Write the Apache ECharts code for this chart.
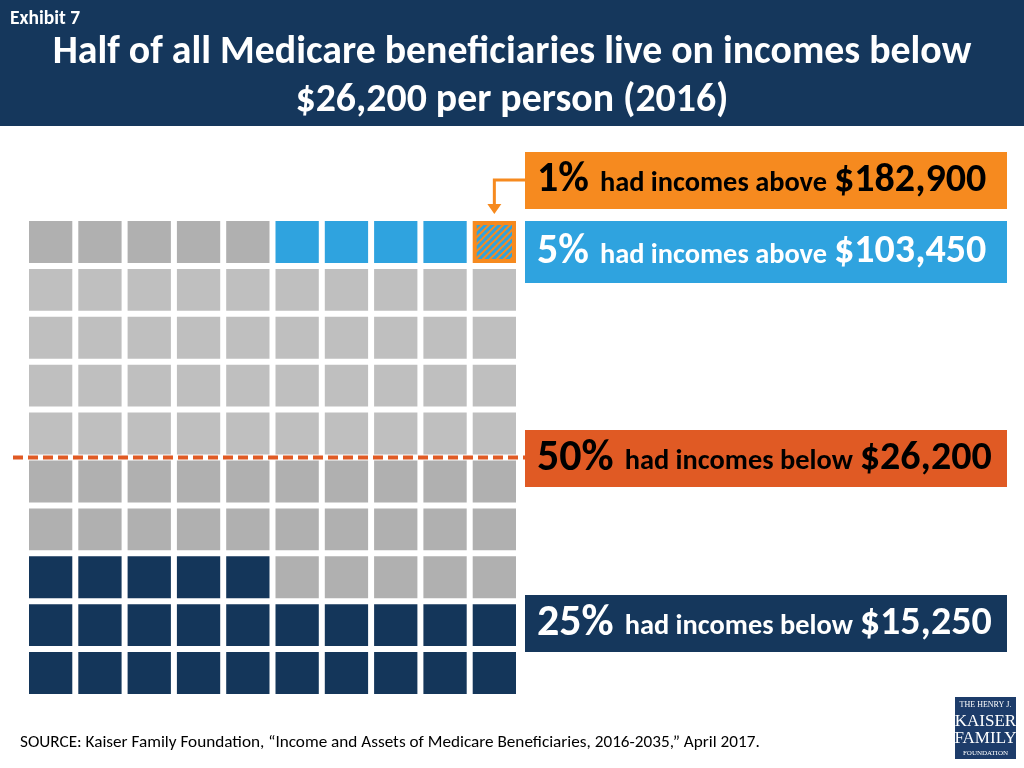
<!DOCTYPE html>
<html><head><meta charset="utf-8">
<script src="https://cdn.jsdelivr.net/npm/echarts@6/dist/echarts.min.js"></script>
<style>html,body{margin:0;padding:0;background:#fff}#c{width:1024px;height:768px}</style>
</head><body><div id="c"></div>
<script>
// ---- data ----
// waffle grid, rows from top: D=gray (lower-half / misc), L=light gray, B=top 5%, T=top 1%, N=bottom 25%
const waffleRows = [
  'DDDDDBBBBT',
  'LLLLLLLLLL',
  'LLLLLLLLLL',
  'LLLLLLLLLL',
  'LLLLLLLLLL',
  'DDDDDDDDDD',
  'DDDDDDDDDD',
  'NNNNNDDDDD',
  'NNNNNNNNNN',
  'NNNNNNNNNN'
];
const labelPcts = ['1%', '5%', '50%', '25%'];
const labelPhrases = ['had incomes above', 'had incomes above', 'had incomes below', 'had incomes below'];
const labelAmounts = ['$182,900', '$103,450', '$26,200', '$15,250'];
const medianRowLine = 5; // 50% boundary (rows from top)
const titleLines = ['Half of all Medicare beneficiaries live on incomes below', '$26,200 per person (2016)'];
const sourceText = 'SOURCE: Kaiser Family Foundation, \u201CIncome and Assets of Medicare Beneficiaries, 2016-2035,\u201D April 2017.';

// ---- styles ----
const FONT = "Carlito, Lato, sans-serif";
const NAVY = '#15375c', BLUE = '#2fa3df', ORANGE = '#f68a1f', RED = '#e05a24';
const colorMap = { D: '#b0b0b0', L: '#bfbfbf', B: BLUE, N: '#14365a', T: ORANGE };

const pat = document.createElement('canvas');
pat.width = 7; pat.height = 7;
(function () {
  const g = pat.getContext('2d');
  g.fillStyle = BLUE; g.fillRect(0, 0, 7, 7);
  g.strokeStyle = ORANGE; g.lineWidth = 2;
  g.beginPath();
  g.moveTo(-1, 8); g.lineTo(8, -1);
  g.moveTo(-1, 1); g.lineTo(1, -1);
  g.moveTo(6, 8); g.lineTo(8, 6);
  g.stroke();
})();

const cells = [];
waffleRows.forEach((row, r) => row.split('').forEach((code, c) => cells.push([c, r, code])));

const chart = echarts.init(document.getElementById('c'), null, { renderer: 'canvas' });
const GAP = 6;
const option = {
  animation: false,
  backgroundColor: '#fff',
  grid: { left: 26, top: 218, width: 493, height: 479 },
  xAxis: { type: 'value', min: 0, max: 10, show: false },
  yAxis: { type: 'value', min: 0, max: 10, inverse: true, show: false },
  series: [{
    type: 'custom',
    data: cells,
    encode: { x: 0, y: 1 },
    renderItem: function (params, api) {
      const c = api.value(0), r = api.value(1);
      const code = cells[params.dataIndex][2];
      const p0 = api.coord([c, r]);
      const p1 = api.coord([c + 1, r + 1]);
      const x = p0[0] + GAP / 2, y = p0[1] + GAP / 2;
      const w = p1[0] - p0[0] - GAP, h = p1[1] - p0[1] - GAP;
      if (code === 'T') {
        return {
          type: 'group',
          children: [
            { type: 'rect', shape: { x: x, y: y, width: w, height: h }, style: { fill: ORANGE } },
            { type: 'rect', shape: { x: x + 4, y: y + 4, width: w - 8, height: h - 8 }, style: { fill: { image: pat, repeat: 'repeat' } } }
          ]
        };
      }
      return { type: 'rect', shape: { x: x, y: y, width: w, height: h }, style: { fill: colorMap[code] } };
    }
  }]
};
chart.setOption(option);

// positions derived from axes
const lineY = chart.convertToPixel({ gridIndex: 0 }, [0, medianRowLine])[1];
const topCell = chart.convertToPixel({ gridIndex: 0 }, [9.5, 0]);

function box(y, h, fill, txt, i, pSize) {
  return {
    type: 'group', children: [
      { type: 'rect', shape: { x: 525, y: y, width: 482, height: h }, style: { fill: fill } },
      {
        type: 'text', x: 537, y: y + h / 2,
        style: {
          text: '{p|' + labelPcts[i] + '}{m|' + labelPhrases[i] + '}{a|' + labelAmounts[i] + '}',
          verticalAlign: 'middle', align: 'left', fill: txt,
          rich: {
            p: { fontFamily: FONT, fontWeight: 'bold', fontSize: pSize, fill: txt, padding: [0, 11, 0, 0] },
            m: { fontFamily: FONT, fontWeight: 'bold', fontSize: 28.4, fill: txt, padding: [7, 7, 0, 0] },
            a: { fontFamily: FONT, fontWeight: 'bold', fontSize: 40, fill: txt }
          }
        }
      }
    ]
  };
}

chart.setOption({
  graphic: [
    { type: 'rect', shape: { x: 0, y: 0, width: 1024, height: 126 }, style: { fill: NAVY } },
    { type: 'text', x: 10, y: 19, style: { text: 'Exhibit 7', fill: '#fff', fontFamily: FONT, fontWeight: 'bold', fontSize: 19.5, verticalAlign: 'middle' } },
    { type: 'text', x: 512, y: 53, style: { text: titleLines[0], fill: '#fff', fontFamily: FONT, fontWeight: 'bold', fontSize: 39.8, align: 'center', verticalAlign: 'middle' } },
    { type: 'text', x: 512, y: 101, style: { text: titleLines[1], fill: '#fff', fontFamily: FONT, fontWeight: 'bold', fontSize: 39.8, align: 'center', verticalAlign: 'middle' } },
    box(152, 57, ORANGE, '#000', 0, 42),
    box(221, 62, BLUE, '#fff', 1, 42),
    box(430, 57, RED, '#000', 2, 44),
    box(595, 57, NAVY, '#fff', 3, 44),
    { type: 'line', shape: { x1: 13, y1: lineY, x2: 525, y2: lineY }, style: { stroke: RED, lineWidth: 4, lineDash: [10, 5] } },
    { type: 'polyline', shape: { points: [[525, 180], [topCell[0], 180], [topCell[0], topCell[1] - 12]] }, style: { stroke: ORANGE, lineWidth: 3, fill: null } },
    { type: 'polygon', shape: { points: [[topCell[0] - 7, topCell[1] - 14], [topCell[0] + 7, topCell[1] - 14], [topCell[0], topCell[1] - 4]] }, style: { fill: ORANGE } },
    { type: 'text', x: 20, y: 743, style: { text: sourceText, fill: '#000', fontFamily: FONT, fontSize: 17.2, verticalAlign: 'middle' } },
    { type: 'rect', shape: { x: 955, y: 697, width: 61, height: 62 }, style: { fill: '#1d3c6a' } },
    { type: 'text', x: 985.5, y: 705, style: { text: 'THE HENRY J.', fill: '#fff', fontFamily: "'Liberation Serif', serif", fontSize: 8, align: 'center', verticalAlign: 'middle' } },
    { type: 'text', x: 985.5, y: 722, style: { text: 'KAISER', fill: '#fff', fontFamily: "'Liberation Serif', serif", fontSize: 17, align: 'center', verticalAlign: 'middle' } },
    { type: 'text', x: 985.5, y: 739, style: { text: 'FAMILY', fill: '#fff', fontFamily: "'Liberation Serif', serif", fontSize: 17, align: 'center', verticalAlign: 'middle' } },
    { type: 'text', x: 985.5, y: 753, style: { text: 'FOUNDATION', fill: '#fff', fontFamily: "'Liberation Serif', serif", fontSize: 7, align: 'center', verticalAlign: 'middle' } }
  ]
});
</script>
</body></html>
